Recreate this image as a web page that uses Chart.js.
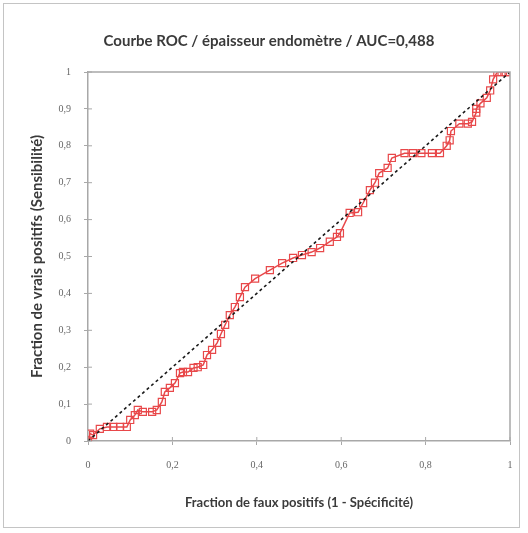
<!DOCTYPE html>
<html>
<head>
<meta charset="utf-8">
<script src="https://cdn.jsdelivr.net/npm/chart.js@4/dist/chart.umd.min.js"></script>
<style>
  html, body { margin: 0; padding: 0; background: #fff; }
  #wrap { position: relative; width: 528px; height: 533px; }
  #frame { position: absolute; left: 3px; top: 3px; width: 515px; height: 523px; border: 1px solid #c4c4c4; pointer-events: none; }
  canvas { position: absolute; left: 0; top: 0; }
</style>
</head>
<body>
<div id="wrap">
  <canvas id="roc" width="528" height="533"></canvas>
  <div id="frame"></div>
</div>
<script>
// ROC curve points: false positive fraction (1 - specificity) and true positive fraction (sensitivity)
const fpr = [0, 0.005, 0.012, 0.028, 0.045, 0.06, 0.076, 0.092, 0.1, 0.111, 0.118, 0.13, 0.152, 0.163,
  0.175, 0.182, 0.194, 0.206, 0.218, 0.225, 0.237, 0.25, 0.26, 0.273, 0.282, 0.294, 0.306, 0.315,
  0.325, 0.336, 0.348, 0.36, 0.372, 0.396, 0.431, 0.46, 0.486, 0.507, 0.53, 0.55, 0.573, 0.59,
  0.597, 0.62, 0.64, 0.652, 0.668, 0.68, 0.69, 0.71, 0.72, 0.75, 0.77, 0.79, 0.815, 0.834, 0.85,
  0.857, 0.86, 0.88, 0.9, 0.91, 0.92, 0.92, 0.93, 0.945, 0.953, 0.96, 0.97, 0.98, 0.99, 1];
const tpr = [0, 0.02, 0.016, 0.033, 0.038, 0.038, 0.038, 0.038, 0.057, 0.07, 0.084, 0.079, 0.079, 0.084,
  0.106, 0.133, 0.144, 0.157, 0.184, 0.187, 0.187, 0.198, 0.2, 0.206, 0.233, 0.247, 0.266, 0.29,
  0.315, 0.341, 0.363, 0.39, 0.417, 0.44, 0.463, 0.482, 0.496, 0.504, 0.512, 0.523, 0.54, 0.553,
  0.563, 0.618, 0.62, 0.645, 0.68, 0.7, 0.726, 0.74, 0.767, 0.78, 0.78, 0.78, 0.78, 0.78, 0.8,
  0.815, 0.84, 0.86, 0.86, 0.865, 0.89, 0.9, 0.915, 0.93, 0.95, 0.98, 1, 1, 1, 1];
// Reference line of a non-informative test
const chanceX = [0, 1];
const chanceY = [0, 1];

const titleText = 'Courbe ROC / épaisseur endomètre / AUC=0,488';
const xTitle = 'Fraction de faux positifs (1 - Spécificité)';
const yTitle = 'Fraction de vrais positifs (Sensibilité)';

const toPoints = (xs, ys) => xs.map((x, i) => ({ x: x, y: ys[i] }));
const fmt = v => { const r = Math.round(v * 10) / 10; return String(r).replace('.', ','); };
const axisGray = '#a8a8a8';

// Short tick stubs inside the plot area plus the top/right frame of the plot
const plotFrame = {
  id: 'plotFrame',
  afterDatasetsDraw(chart) {
    const { ctx, chartArea: a, scales } = chart;
    ctx.save();
    ctx.strokeStyle = axisGray;
    ctx.lineWidth = 1.5;
    ctx.beginPath();
    ctx.moveTo(a.left, a.top); ctx.lineTo(a.right, a.top); ctx.lineTo(a.right, a.bottom);
    ctx.stroke();
    ctx.lineWidth = 1;
    ctx.beginPath();
    scales.y.ticks.forEach(t => { const p = scales.y.getPixelForValue(t.value); ctx.moveTo(a.left, p); ctx.lineTo(a.left + 4, p); });
    scales.x.ticks.forEach(t => { const p = scales.x.getPixelForValue(t.value); ctx.moveTo(p, a.bottom); ctx.lineTo(p, a.bottom - 4); });
    ctx.stroke();
    ctx.restore();
  }
};

new Chart(document.getElementById('roc'), {
  type: 'scatter',
  data: {
    datasets: [
      {
        data: toPoints(chanceX, chanceY),
        showLine: true,
        borderColor: '#1a1a1a',
        borderWidth: 1.6,
        borderDash: [3, 3],
        pointRadius: 0,
        order: 0
      },
      {
        data: toPoints(fpr, tpr),
        showLine: true,
        borderColor: '#e8484a',
        borderWidth: 1.5,
        pointStyle: 'rect',
        pointRadius: 5,
        pointBorderColor: '#e8484a',
        pointBackgroundColor: 'rgba(255,255,255,0)',
        pointBorderWidth: 1.2,
        order: 1
      }
    ]
  },
  options: {
    responsive: false,
    animation: false,
    layout: { padding: { left: 28, right: 18, top: 0, bottom: 0 } },
    plugins: {
      legend: { display: false },
      tooltip: { enabled: false },
      title: {
        display: true,
        text: titleText,
        color: '#3a3a3a',
        font: { family: 'Lato', size: 15, weight: 'bold' },
        padding: { top: 32, bottom: 22 }
      }
    },
    scales: {
      x: {
        type: 'linear', min: 0, max: 1,
        afterFit: s => { s.height = 92; },
        ticks: { stepSize: 0.2, callback: fmt, color: '#666', padding: 14, maxRotation: 0,
                 font: { family: 'Liberation Serif', size: 10 } },
        grid: { display: true, drawOnChartArea: false, tickLength: 4, color: axisGray },
        border: { color: axisGray, width: 1.5 },
        title: { display: true, text: xTitle, color: '#3a3a3a',
                 font: { family: 'Lato', size: 13, weight: 'bold' }, padding: { top: 0, bottom: 22.2 } }
      },
      y: {
        type: 'linear', min: 0, max: 1,
        afterFit: s => { s.width = 60; },
        ticks: { stepSize: 0.1, callback: fmt, color: '#666', padding: 13,
                 font: { family: 'Liberation Serif', size: 10 } },
        grid: { display: true, drawOnChartArea: false, tickLength: 4, color: axisGray },
        border: { color: axisGray, width: 1.5 },
        title: { display: true, text: yTitle, color: '#3a3a3a',
                 font: { family: 'Lato', size: 15, weight: 'bold' }, padding: { top: 0, bottom: 0 } }
      }
    }
  },
  plugins: [plotFrame]
});
</script>
</body>
</html>
